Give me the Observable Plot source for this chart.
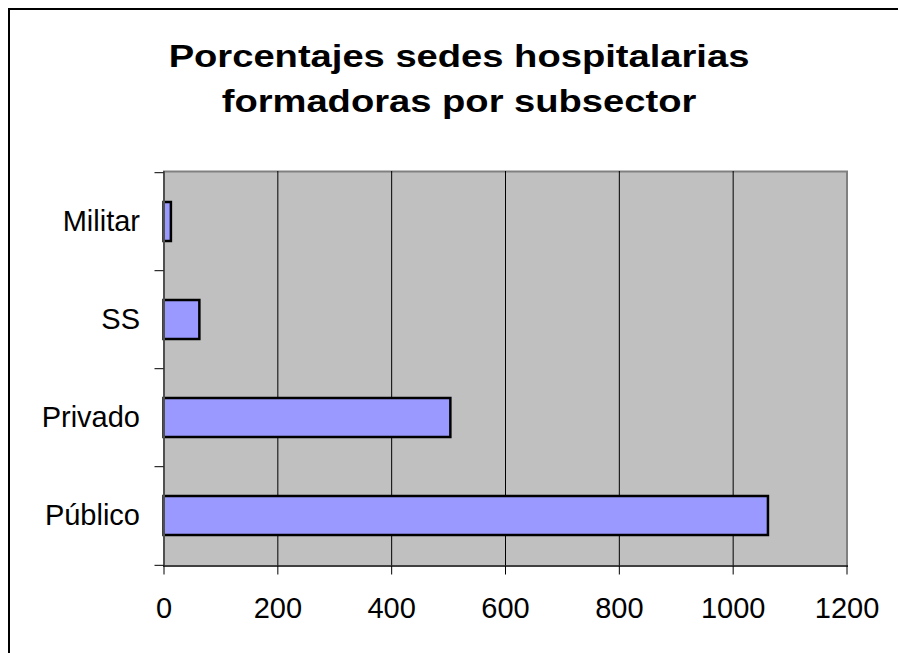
<!DOCTYPE html>
<html>
<head>
<meta charset="utf-8">
<script src="https://cdn.jsdelivr.net/npm/d3@7"></script>
<script src="https://cdn.jsdelivr.net/npm/@observablehq/plot@0.6"></script>
<style>
  html, body { margin: 0; padding: 0; background: #fff; overflow: hidden; }
  #wrap { position: relative; width: 898px; height: 653px; overflow: hidden; }
  #frame { position: absolute; left: 8px; top: 8px; width: 2000px; height: 2000px;
           border-top: 2px solid #000; border-left: 2px solid #000; box-sizing: border-box; }
  #title { position: absolute; left: 0; top: 34px; width: 918px; text-align: center;
           font-family: "Liberation Sans", Arial, sans-serif; font-weight: bold;
           font-size: 31px; line-height: 45px; color: #000;
           transform: scaleX(1.23); transform-origin: 459px 0; }
  #chart { position: absolute; left: 0; top: 0; }
</style>
</head>
<body>
<div id="wrap">
  <div id="frame"></div>
  <div id="title">Porcentajes sedes hospitalarias<br>formadoras por subsector</div>
  <div id="chart"></div>
</div>
<script>
const categories = ["Militar", "SS", "Privado", "Público"];
const values = [13, 63, 504, 1062];
const xTicks = [0, 200, 400, 600, 800, 1000, 1200];
const gridValues = [200, 400, 600, 800, 1000];

const data = categories.map((c, i) => ({category: c, value: values[i]}));

const W = 898, H = 653;
const mL = 163.5, mT = 171, mR = 51.5, mB = 87.5;
const step = (H - mT - mB) / categories.length;
const xMax = 1200;
const tickLenUnits = 9 / ((W - mL - mR) / xMax);

const chart = Plot.plot({
  width: W,
  height: H,
  marginLeft: mL,
  marginTop: mT,
  marginRight: mR,
  marginBottom: mB,
  style: {background: "transparent", fontFamily: "'Liberation Sans', Arial, sans-serif", overflow: "visible"},
  x: {domain: [0, xMax], ticks: xTicks},
  y: {domain: categories, paddingInner: 0.6, paddingOuter: 0.3},
  marks: [
    Plot.frame({fill: "#c0c0c0", stroke: "#808080", strokeWidth: 2}),
    Plot.ruleX(gridValues, {stroke: "#000", strokeWidth: 1}),
    Plot.barX(data, {y: "category", x: "value", fill: "#9999ff", stroke: "#000", strokeWidth: 2.5}),
    Plot.ruleX([0], {stroke: "#505050", strokeWidth: 2}),
    Plot.frame({anchor: "bottom", stroke: "#404040", strokeWidth: 2}),
    Plot.axisX({ticks: xTicks, tickSize: 9, tickPadding: 22, fontSize: 29, fill: "#000", stroke: "#000", label: null, tickFormat: d => String(d)}),
    Plot.axisY({tickSize: 0, tickPadding: 24, fontSize: 29, fill: "#000", label: null}),
    Plot.ruleY(categories, {y: d => d, x1: -tickLenUnits, x2: 0, dy: -step / 2, stroke: "#000", clip: false}),
    Plot.ruleY(categories.slice(-1), {y: d => d, x1: -tickLenUnits, x2: 0, dy: step / 2, stroke: "#000", clip: false})
  ]
});
document.getElementById("chart").appendChild(chart);
</script>
</body>
</html>
